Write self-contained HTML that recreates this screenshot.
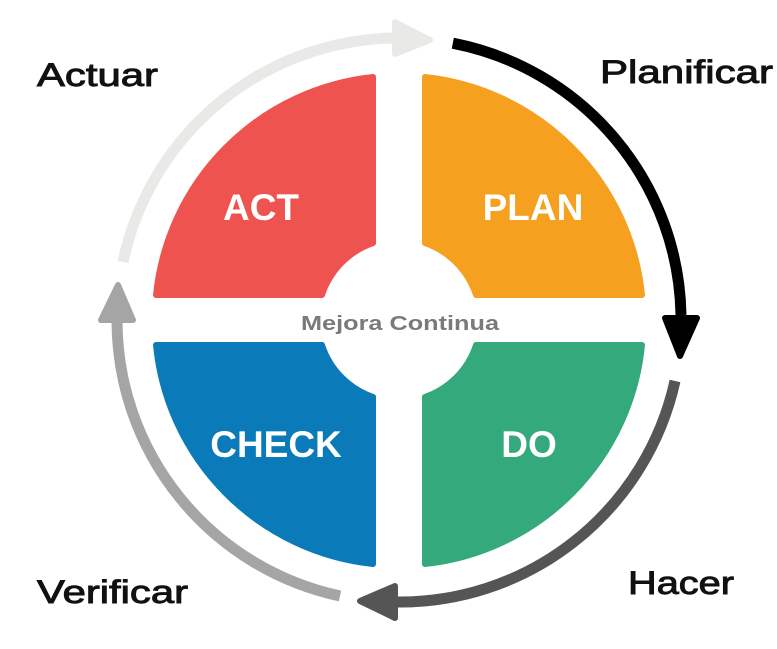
<!DOCTYPE html>
<html><head><meta charset="utf-8"><style>
html,body{margin:0;padding:0;background:#fff;}
svg{display:block;}
</style></head><body>
<svg width="777" height="649" viewBox="0 0 777 649" xmlns="http://www.w3.org/2000/svg">
<rect width="777" height="649" fill="#fff"/>
<g stroke-linejoin="round" stroke-width="6">
<path d="M373,77 L373,243 A82,82 0 0 0 322,295 L156,295 A244,244 0 0 1 373,77 Z" fill="#ef5350" stroke="#ef5350"/>
<path d="M425,77 L425,243 A82,82 0 0 1 476,295 L642,295 A244,244 0 0 0 425,77 Z" fill="#f6a01f" stroke="#f6a01f"/>
<path d="M373,564 L373,397 A82,82 0 0 1 322,345 L156,345 A244,244 0 0 0 373,564 Z" fill="#0a7bb8" stroke="#0a7bb8"/>
<path d="M425,564 L425,397 A82,82 0 0 0 476,345 L642,345 A244,244 0 0 1 425,564 Z" fill="#34aa7c" stroke="#34aa7c"/>
</g>
<g font-family="Liberation Sans, sans-serif" font-weight="bold" fill="#fff" font-size="37" text-anchor="middle">
<text x="261" y="220">ACT</text>
<text x="533" y="220">PLAN</text>
<text x="276" y="457">CHECK</text>
<text x="529" y="457">DO</text>
</g>
<text x="301" y="330" font-family="Liberation Sans, sans-serif" font-weight="bold" font-size="20" fill="#7a7a7a" textLength="198" lengthAdjust="spacingAndGlyphs">Mejora Continua</text>
<g fill="none" stroke-width="11" stroke-linecap="butt">
<path d="M452.8,43.2 A282,282 0 0 1 681,315" stroke="#000"/>
<path d="M675,381 A282,282 0 0 1 394,602" stroke="#555"/>
<path d="M340,596 A282,282 0 0 1 117,320" stroke="#a5a5a5"/>
<path d="M123,262 A282,282 0 0 1 394,38" stroke="#e9e9e7"/>
</g>
<polygon points="665,318 697,318 680,356" fill="#000" stroke="#000" stroke-width="6" stroke-linejoin="round"/>
<polygon points="395,586 395,618 360,601" fill="#555" stroke="#555" stroke-width="6" stroke-linejoin="round"/>
<polygon points="101,320 133,320 118,285" fill="#a5a5a5" stroke="#a5a5a5" stroke-width="6" stroke-linejoin="round"/>
<polygon points="395,22 395,54 430,40" fill="#e9e9e7" stroke="#e9e9e7" stroke-width="6" stroke-linejoin="round"/>
<g font-family="Liberation Sans, sans-serif" font-size="32" fill="#111" stroke="#111" stroke-width="0.9">
<text x="37" y="86" textLength="121" lengthAdjust="spacingAndGlyphs">Actuar</text>
<text x="600" y="83" textLength="173" lengthAdjust="spacingAndGlyphs">Planificar</text>
<text x="37" y="603" textLength="151" lengthAdjust="spacingAndGlyphs">Verificar</text>
<text x="628" y="594" textLength="106" lengthAdjust="spacingAndGlyphs">Hacer</text>
</g>
</svg>
</body></html>
